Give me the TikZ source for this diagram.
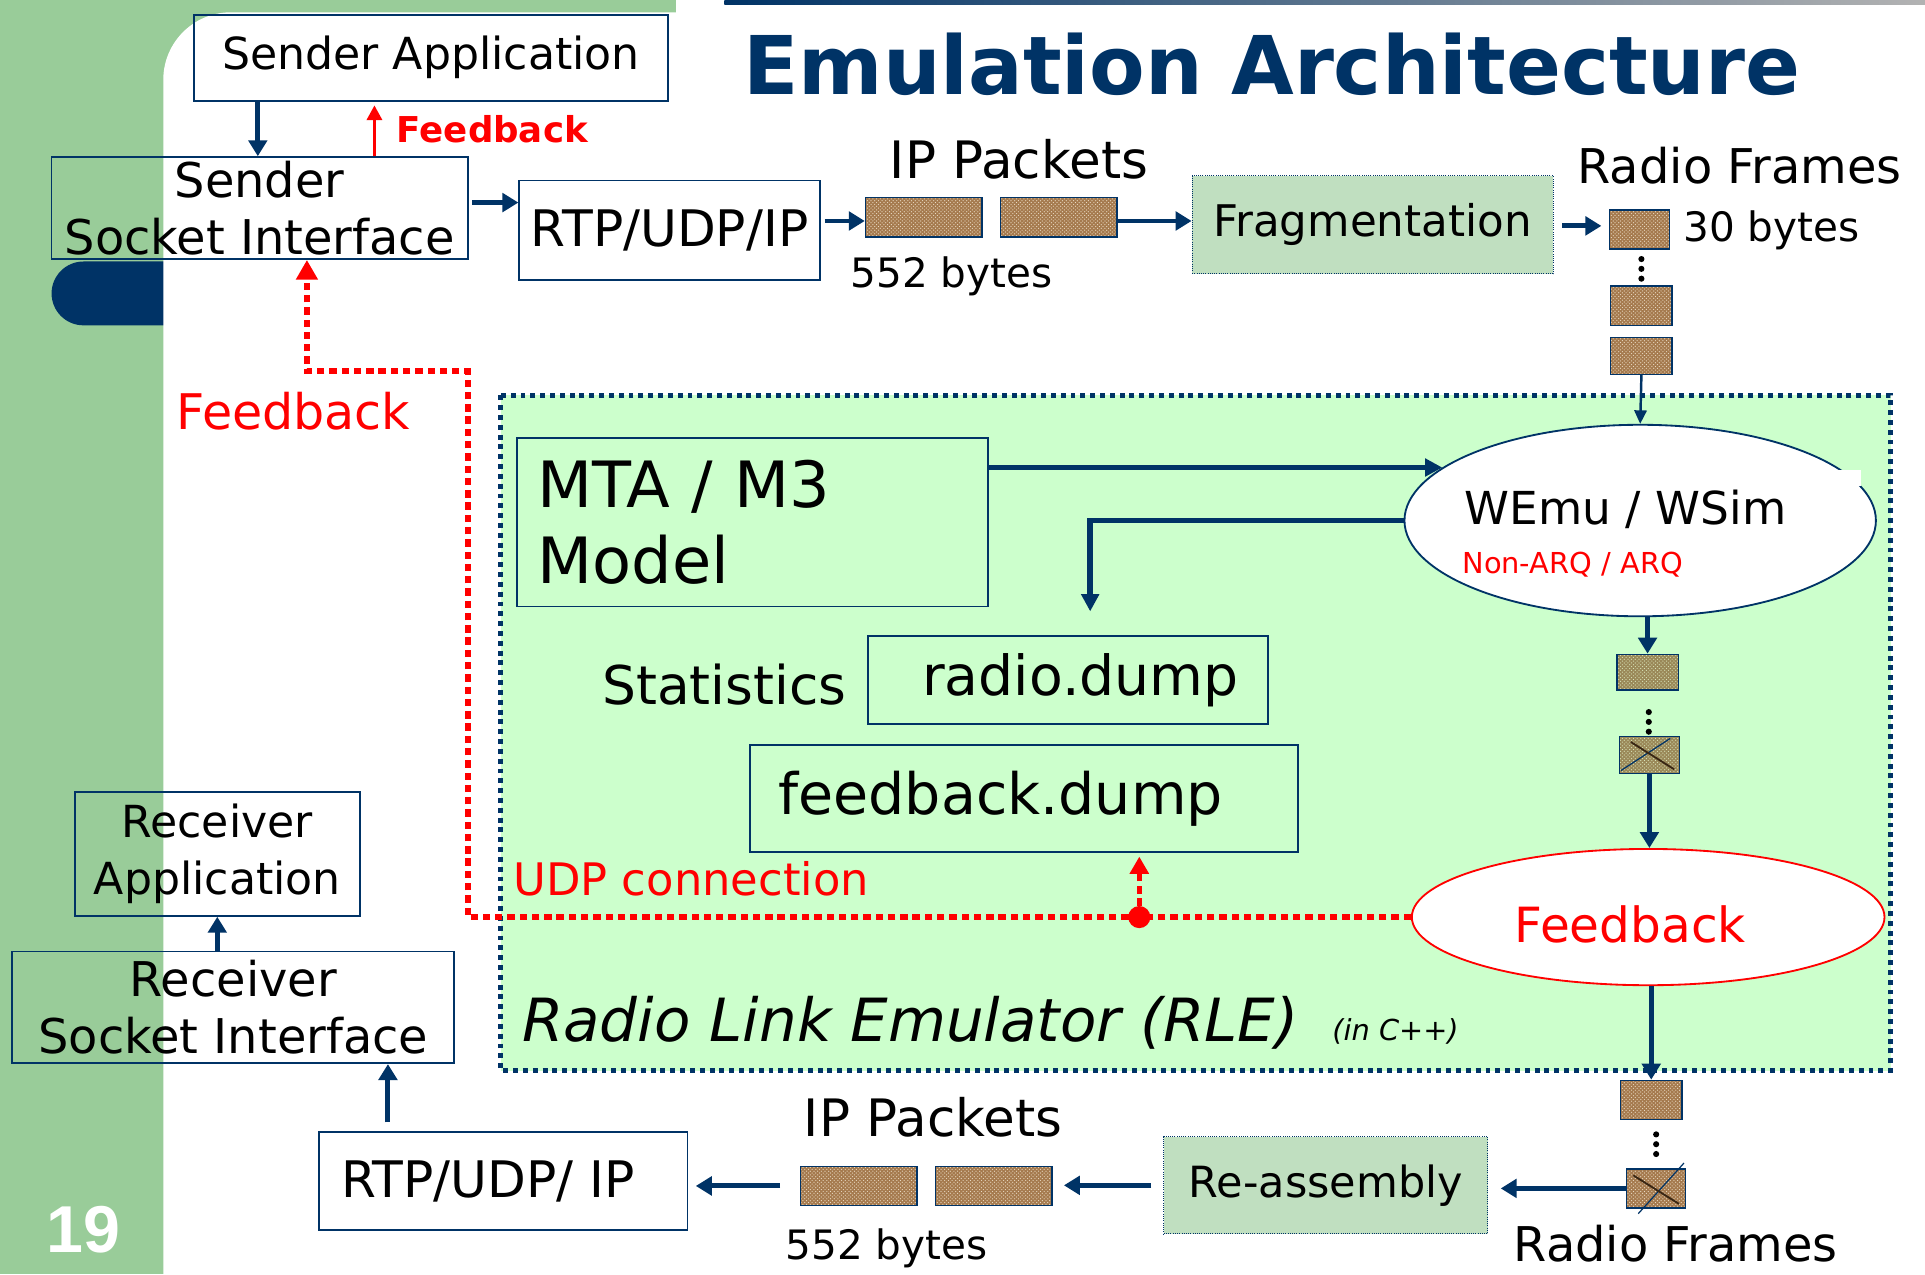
\documentclass[tikz,border=0pt]{standalone}
\usepackage{fontspec}
\setmainfont{DejaVu Sans}
\newfontfamily\arialfont{Liberation Sans}
\usetikzlibrary{shapes.geometric, arrows.meta, patterns}
\definecolor{navy}{HTML}{003366}
\definecolor{stripgreen}{HTML}{99CC99}
\definecolor{rlegreen}{HTML}{CCFFCC}
\definecolor{fraggreen}{HTML}{C0DFC0}
\definecolor{pktbrown}{HTML}{A57A4E}
\definecolor{pktlight}{HTML}{EADBC4}
\definecolor{frolive}{HTML}{9A8858}
\definecolor{frlight}{HTML}{D8E4B8}
\newcommand\fs[2]{\fontsize{#1pt}{#2pt}\selectfont}
\begin{document}
\begin{tikzpicture}[x=1pt,y=-1pt,
  box/.style={draw=navy, line width=1.5pt, inner sep=0pt, align=center},
  pkt/.style={draw=navy, line width=1.2pt, inner sep=0pt, preaction={fill=pktbrown}, pattern=crosshatch dots, pattern color=pktlight},
  frm/.style={draw=navy, line width=1.2pt, inner sep=0pt, preaction={fill=frolive}, pattern=crosshatch dots, pattern color=frlight},
  procbox/.style={draw=navy, line width=0.8pt, densely dotted, fill=fraggreen, inner sep=0pt},
  arr/.style={draw=navy, line width=4pt, -{Triangle[length=13pt,width=15pt]}},
  tarr/.style={draw=navy, line width=2pt, -{Triangle[length=11pt,width=10pt]}},
  marr/.style={draw=navy, line width=4.5pt, -{Triangle[length=14pt,width=14pt]}},
  rdotted/.style={draw=red, line width=4.5pt, dash pattern=on 6pt off 4pt, -{Triangle[length=16pt,width=17pt]}},
  vdot/.style={circle, fill=black, inner sep=0pt, minimum size=5pt},
  lbl/.style={inner sep=0pt}
]
\useasboundingbox (0,0) rectangle (1568,1038);
\clip (0,0) rectangle (1568,1038);
% background
\fill[stripgreen] (0,0) rectangle (1568,1038);
\fill[navy, rounded corners=26pt] (42,213) rectangle (200,265);
\fill[white, rounded corners=55pt] (133,10) rectangle (1700,1200);
\fill[white] (551,0) rectangle (1568,12);
\shade[left color=navy, right color=black!30] (590,0) rectangle (1568,4);
\node[lbl, font=\arialfont\bfseries\fs{54}{60}, text=white] (pagenum) at (68,1002) {19};

% title
\node[lbl, font=\bfseries\fs{66}{70}, text=navy] (title) at (1036,52) {Emulation Architecture};

% helper coordinates
\coordinate (xfb) at (305,0);
\coordinate (ya) at (0,165);
\coordinate (yb) at (0,180);
\coordinate (yc) at (0,184);
\coordinate (x316) at (316,0);
\coordinate (rc1) at (381,302);
\coordinate (rc2) at (250,302);
\coordinate (statsin) at (888,498);

% RLE container
\draw[draw=navy, line width=4pt, dash pattern=on 4pt off 4pt, fill=rlegreen] (408,322) rectangle (1540,872);

% top row
\node[box, minimum width=386pt, minimum height=70pt, font=\fs{36}{40}] (sapp) at (351,47) {Sender Application};
\node[box, minimum width=339pt, minimum height=83pt, font=\fs{39}{46}] (sock) at (211.5,169.5) {Sender\\Socket Interface};
\node[box, minimum width=245pt, minimum height=81pt, font=\fs{41}{46}] (rtp) at (545.5,187.5) {RTP/UDP/IP};
\node[pkt, minimum width=95pt, minimum height=32pt] (pk1) at (752.5,177) {};
\node[pkt, minimum width=95pt, minimum height=32pt] (pk2) at (862.5,177) {};
\node[procbox, minimum width=294pt, minimum height=80pt] (frag) at (1118,183) {};
\node[lbl, font=\fs{35.5}{40}] (fragtxt) at (frag.center) {Fragmentation};
\node[pkt, minimum width=49pt, minimum height=32pt] (fr1) at (1335.5,187) {};
\node[pkt, minimum width=50pt, minimum height=32pt] (fr2) at (1337,249) {};
\node[pkt, minimum width=50pt, minimum height=30pt] (fr3) at (1337,290) {};
\node[vdot] (d1) at (1337,211) {};
\node[vdot] (d2) at (1337,219) {};
\node[vdot] (d3) at (1337,227) {};

\node[lbl, font=\bfseries\fs{29}{32}, text=red] (fbsmall) at (401,105) {Feedback};
\node[lbl, font=\fs{42}{46}] (ipp1) at (830,130) {IP Packets};
\node[lbl, font=\fs{33}{36}] (b552a) at (775,225) {552 bytes};
\node[lbl, font=\fs{39}{44}] (rf1) at (1417,135) {Radio Frames};
\node[lbl, font=\fs{33}{36}] (b30) at (1443,188) {30 bytes};
\node[lbl, font=\fs{40}{44}, text=red] (fbbig) at (239,335) {Feedback};

\draw[arr] ([xshift=-141pt]sapp.south) -- ([xshift=-141pt]sapp.south |- sock.north);
\draw[draw=red, line width=3pt, -{Triangle[length=12pt,width=12pt]}, shorten >=3pt] (sock.north -| xfb) -- (sapp.south -| xfb);
\draw[arr, shorten <=3pt] (sock.east |- ya) -- (rtp.west |- ya);
\draw[arr, shorten <=3pt] (rtp.east |- yb) -- (pk1.west |- yb);
\draw[arr] (pk2.east |- yb) -- (frag.west |- yb);
\draw[arr, shorten <=7pt, shorten >=6pt] (frag.east |- yc) -- (fr1.west |- yc);

% inside RLE
\node[box, minimum width=384pt, align=left, text width=350pt, inner xsep=17pt, minimum height=137pt, font=\fs{52}{62}] (mta) at (613,425.5) {MTA / M3\\Model};
\node[ellipse, draw=navy, line width=1.5pt, fill=white, minimum width=384pt, minimum height=156pt, inner sep=0pt] (wemu) at (1336,424) {};
\fill[white] (1497,383) rectangle (1516,396);
\node[lbl, font=\fs{37}{42}, anchor=west] (wemutxt) at (1193,415) {WEmu / WSim};
\node[lbl, font=\fs{23.5}{26}, text=red, anchor=west] (arqtxt) at (1191,460) {Non-ARQ / ARQ};
\node[lbl, font=\fs{43.5}{48}] (stat) at (590,558) {Statistics};
\node[box, minimum width=326pt, minimum height=72pt, font=\fs{45}{50}] (radio) at (870,554) {\hspace{20pt}radio.dump};
\node[box, minimum width=446pt, minimum height=87pt, font=\fs{46.5}{50}] (fbd) at (834,650.5) {feedback.dump\hspace{38pt}};
\node[lbl, font=\fs{36.5}{40}, text=red, anchor=west] (udp) at (418,716) {UDP connection};
\node[frm, minimum width=50pt, minimum height=29pt] (fr4) at (1342,547.5) {};
\node[vdot] (d4) at (1343,580) {};
\node[vdot] (d5) at (1343,588) {};
\node[vdot] (d6) at (1343,596) {};
\node[frm, minimum width=49pt, minimum height=30pt] (fr5) at (1343.5,615) {};
\draw[navy, line width=1pt] ([shift={(2pt,3pt)}]fr5.south west) -- ([shift={(-8pt,-2pt)}]fr5.north east);
\draw[black!70!brown, line width=1.5pt] ([shift={(10pt,-5pt)}]fr5.north west) -- ([shift={(-5pt,4pt)}]fr5.south east);
\node[ellipse, draw=red, line width=1.5pt, fill=white, minimum width=385pt, minimum height=111pt, inner sep=0pt] (fbell) at (1342.5,747) {};
\node[lbl, font=\fs{39.5}{44}, text=red] (fbelltxt) at (1328,753) {Feedback};
\node[lbl, font=\itshape\fs{48.5}{52}, anchor=west] (rle) at (425,833) {Radio Link Emulator (RLE)};
\node[lbl, font=\itshape\fs{23.5}{26}, anchor=west] (cpp) at (1085,840) {(in C++)};

\draw[marr] (mta.east |- wemu.165) -- (wemu.165);
\draw[marr] (wemu.west) -| (statsin);
\draw[tarr] (fr3.south) -- (wemu.north);
\draw[arr] (fr4.north |- wemu.south) -- (fr4.north);
\draw[arr] (fr5.south) -- (fr5.south |- fbell.north);

% red feedback path
\draw[rdotted] (fbell.west) -| (rc1) -- (rc2) -- (rc2 |- sock.south);
\node[circle, fill=red, inner sep=0pt, minimum size=18pt] (rdot) at (928,747) {};
\draw[draw=red, line width=4pt, dash pattern=on 6pt off 4pt, -{Triangle[length=14pt,width=15pt]}, shorten >=3pt] (rdot) -- (rdot |- fbd.south);

% bottom row
\node[pkt, minimum width=50pt, minimum height=32pt] (fr6) at (1345,896) {};
\node[vdot] (d7) at (1349,924) {};
\node[vdot] (d8) at (1349,932) {};
\node[vdot] (d9) at (1349,940) {};
\node[pkt, minimum width=48pt, minimum height=32pt] (fr7) at (1349,968) {};
\draw[navy, line width=1pt] ([shift={(10pt,-4pt)}]fr7.south west) -- ([shift={(-2pt,4pt)}]fr7.north east);
\draw[black!70!brown, line width=1.5pt] ([shift={(6pt,-6pt)}]fr7.north west) -- ([shift={(-6pt,4pt)}]fr7.south east);
\draw[arr] (fr6.north |- fbell.south) -- (fr6.north);
\node[procbox, minimum width=264pt, minimum height=79pt] (reasm) at (1080,965.5) {};
\node[lbl, font=\fs{35}{40}] (reasmtxt) at (reasm.center) {Re-assembly};
\node[pkt, minimum width=95pt, minimum height=32pt] (pk3) at (699.5,966) {};
\node[pkt, minimum width=95pt, minimum height=32pt] (pk4) at (809.5,966) {};
\node[box, minimum width=300pt, minimum height=80pt, font=\fs{41}{46}] (rtp2) at (410,962) {RTP/UDP/ IP\hspace{25pt}};
\node[box, minimum width=360pt, minimum height=91pt, font=\fs{39}{46}] (rsock) at (190,820.5) {Receiver\\Socket Interface};
\node[box, minimum width=232pt, minimum height=101pt, font=\fs{36}{46}] (rapp) at (177,695.5) {Receiver\\Application};
\node[lbl, font=\fs{42}{46}] (ipp2) at (760,910) {IP Packets};
\node[lbl, font=\fs{33}{36}] (b552b) at (722,1017) {552 bytes};
\node[lbl, font=\fs{39}{44}] (rf2) at (1365,1013) {Radio Frames};

\draw[arr, shorten >=10pt] (fr7.west) -- (reasm.east |- fr7.west);
\draw[arr, shorten <=10pt, shorten >=9pt] (reasm.west) -- (pk4.east |- reasm.west);
\draw[arr, shorten <=16pt, shorten >=6pt] (pk3.west) -- (rtp2.east |- pk3.west);
\draw[arr, shorten <=7pt] (rtp2.north -| x316) -- (rsock.south -| x316);
\draw[arr] (rsock.north -| rapp.south) -- (rapp.south);
\end{tikzpicture}
\end{document}
